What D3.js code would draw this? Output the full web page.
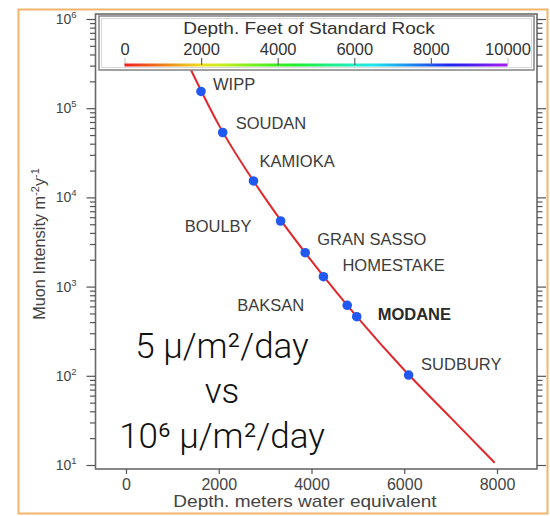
<!DOCTYPE html>
<html>
<head>
<meta charset="utf-8">
<script src="https://cdn.jsdelivr.net/npm/d3@7"></script>
<style>
  html, body { margin: 0; padding: 0; background: #fff; }
  svg { display: block; }
  .chart text { font-family: "Liberation Sans", Arial, Helvetica, sans-serif; }
  .note text { font-family: Roboto, Lato, "Open Sans", sans-serif; font-weight: 300; }
</style>
</head>
<body>
<svg id="chart" width="550" height="516"></svg>
<script>
// Muon intensity vs. depth at underground laboratories
const depthTicksM = [0, 2000, 4000, 6000, 8000];
const legendTicksFt = [0, 2000, 4000, 6000, 8000, 10000];
const decades = [1, 2, 3, 4, 5, 6];

const sites = ["WIPP", "SOUDAN", "KAMIOKA", "BOULBY", "GRAN SASSO", "HOMESTAKE", "BAKSAN", "MODANE", "SUDBURY"];
const siteDepth = [1617, 2085, 2749, 3334, 3864, 4257, 4770, 4975, 6094];          // m.w.e.
const siteIntensity = [1.54e5, 5.34e4, 1.53e4, 5440, 2400, 1291, 617, 460, 102];   // m^-2 y^-1

// depth–intensity curve
const fitDepth = [1250, 2000, 3000, 4000, 5000, 6000, 7000, 7950];
const fitIntensity = [3.9e5, 6.5e4, 9.8e3, 1.94e3, 445, 116, 34, 10.6];

// label placement relative to each site marker: [dx, dy, anchor, bold]
const labelLayout = [
  [12, -1.5, "start", false],
  [13, -4, "start", false],
  [6, -14, "start", false],
  [-29, 11, "end", false],
  [12, -8, "start", false],
  [19, -6, "start", false],
  [-43, 6, "end", false],
  [21, 3.5, "start", true],
  [12.5, -5, "start", false]
];

const noteLines = ["5 μ/m²/day", "vs", "10⁶ μ/m²/day"];

const svg = d3.select("#chart");
const g = svg.append("g").attr("class", "chart");

// outer frame
g.append("rect")
  .attr("x", 18.5).attr("y", 9.5).attr("width", 529).attr("height", 504)
  .attr("fill", "#fff").attr("stroke", "#f2b46e").attr("stroke-width", 2);

const plot = { left: 95.5, right: 537, top: 14, bottom: 469 };

const x = d3.scaleLinear().domain([0, 8000]).range([126, 497]);
const y = d3.scaleLog().domain([1e1, 1e6]).range([465, 19]);

// plot frame
g.append("rect")
  .attr("x", plot.left).attr("y", plot.top)
  .attr("width", plot.right - plot.left).attr("height", plot.bottom - plot.top)
  .attr("fill", "#fff").attr("stroke", "#6a6a6a").attr("stroke-width", 1.6);

// y tick values: decades plus 2..9 minors
const yTicks = [];
decades.forEach(k => {
  const base = Math.pow(10, k);
  yTicks.push(base);
  if (k < 6) for (let m = 2; m <= 9; m++) yTicks.push(base * m);
});
const isMajor = v => Math.abs(Math.log10(v) - Math.round(Math.log10(v))) < 1e-9;

function styleYAxis(sel, side) {
  sel.select(".domain").remove();
  sel.selectAll(".tick line")
    .attr("stroke", "#555").attr("stroke-width", 1.2)
    .attr("x2", d => (isMajor(d) ? 9 : 5.5) * side);
}

const yAxisL = g.append("g").attr("transform", `translate(${plot.left},0)`)
  .call(d3.axisLeft(y).tickValues(yTicks).tickSize(9).tickFormat(""));
styleYAxis(yAxisL, -1);

const yAxisR = g.append("g").attr("transform", `translate(${plot.right},0)`)
  .call(d3.axisRight(y).tickValues(yTicks).tickSize(9).tickFormat(""));
styleYAxis(yAxisR, 1);

// decade labels 10^k
const yLab = g.append("g");
decades.forEach(k => {
  const t = yLab.append("text")
    .attr("x", plot.left - 19).attr("y", y(Math.pow(10, k)) + 5)
    .attr("text-anchor", "end").attr("fill", "#444").attr("font-size", 14);
  t.append("tspan").text("10");
  t.append("tspan").attr("dy", -6).attr("font-size", 9.5).text(k);
});

// x axis
const xAxis = g.append("g").attr("transform", `translate(0,${plot.bottom})`)
  .call(d3.axisBottom(x).tickValues(depthTicksM).tickSize(5).tickFormat(d3.format("d")));
xAxis.select(".domain").remove();
xAxis.selectAll(".tick line").attr("stroke", "#555").attr("stroke-width", 1.2);
xAxis.selectAll(".tick text")
  .attr("fill", "#444").attr("font-size", 16).attr("dy", 0).attr("y", 21);

// axis titles
g.append("text")
  .attr("transform", "translate(305,507) scale(1.12,1)")
  .attr("text-anchor", "middle").attr("fill", "#444").attr("font-size", 17)
  .text("Depth. meters water equivalent");

const yTitle = g.append("text")
  .attr("transform", "translate(45,244) rotate(-90)")
  .attr("text-anchor", "middle").attr("fill", "#444").attr("font-size", 16.3);
yTitle.append("tspan").text("Muon Intensity m");
yTitle.append("tspan").attr("dy", -6).attr("font-size", 11).text("-2");
yTitle.append("tspan").attr("dy", 6).text("y");
yTitle.append("tspan").attr("dy", -6).attr("font-size", 11).text("-1");

// curve
const curve = d3.line()
  .x((d, i) => x(fitDepth[i]))
  .y((d, i) => y(fitIntensity[i]))
  .curve(d3.curveMonotoneX);
g.append("path")
  .attr("d", curve(fitDepth))
  .attr("fill", "none").attr("stroke", "#e0282c").attr("stroke-width", 2);

// site markers
g.append("g").selectAll("circle")
  .data(sites)
  .join("circle")
  .attr("cx", (d, i) => x(siteDepth[i]))
  .attr("cy", (d, i) => y(siteIntensity[i]))
  .attr("r", 4.8)
  .attr("fill", "#2159f0");

// site labels
g.append("g").selectAll("text")
  .data(sites)
  .join("text")
  .attr("x", (d, i) => x(siteDepth[i]) + labelLayout[i][0])
  .attr("y", (d, i) => y(siteIntensity[i]) + labelLayout[i][1])
  .attr("text-anchor", (d, i) => labelLayout[i][2])
  .attr("font-weight", (d, i) => labelLayout[i][3] ? "bold" : "normal")
  .attr("fill", (d, i) => labelLayout[i][3] ? "#2a2a2a" : "#3c3c3c")
  .attr("font-size", 16.5)
  .text(d => d);

// legend: depth in feet of standard rock
const lx = d3.scaleLinear().domain([0, 10000]).range([124.5, 507.5]);
const legend = g.append("g");
legend.append("rect")
  .attr("x", 99).attr("y", 16).attr("width", 435).attr("height", 54)
  .attr("fill", "#fff").attr("stroke", "#8a8a8a").attr("stroke-width", 1.6);
legend.append("rect")
  .attr("x", 101.5).attr("y", 18.5).attr("width", 430).attr("height", 49)
  .attr("fill", "none").attr("stroke", "#d8d8d8").attr("stroke-width", 1);

legend.append("text")
  .attr("transform", "translate(309,34) scale(1.12,1)")
  .attr("text-anchor", "middle").attr("fill", "#333").attr("font-size", 17)
  .text("Depth. Feet of Standard Rock");

const grad = svg.append("defs").append("linearGradient")
  .attr("id", "rainbow").attr("x1", 0).attr("x2", 1).attr("y1", 0).attr("y2", 0);
d3.range(0, 1.0001, 0.05).forEach(t => {
  grad.append("stop")
    .attr("offset", t)
    .attr("stop-color", d3.hsl(280 * t, 0.85, 0.52).formatHex());
});

legend.append("rect")
  .attr("x", lx(0)).attr("y", 63.5).attr("width", lx(10000) - lx(0)).attr("height", 3)
  .attr("fill", "url(#rainbow)");

const lAxis = legend.append("g").attr("transform", "translate(0,65)")
  .call(d3.axisTop(lx).tickValues(legendTicksFt).tickSize(7).tickFormat(d3.format("d")));
lAxis.select(".domain").remove();
lAxis.selectAll(".tick line").attr("stroke", "#666").attr("stroke-width", 1.2)
  .attr("stroke-opacity", d => (d === 0 || d === 10000) ? 0.35 : 1);
lAxis.selectAll(".tick text")
  .attr("fill", "#333").attr("font-size", 16.5).attr("y", -10);

// overlay note
const note = svg.append("g").attr("class", "note");
const noteY = [358, 403, 448];
noteLines.forEach((s, i) => {
  note.append("text")
    .attr("x", 222).attr("y", noteY[i])
    .attr("text-anchor", "middle").attr("fill", "#111").attr("font-size", 35)
    .text(s);
});
</script>
</body>
</html>
